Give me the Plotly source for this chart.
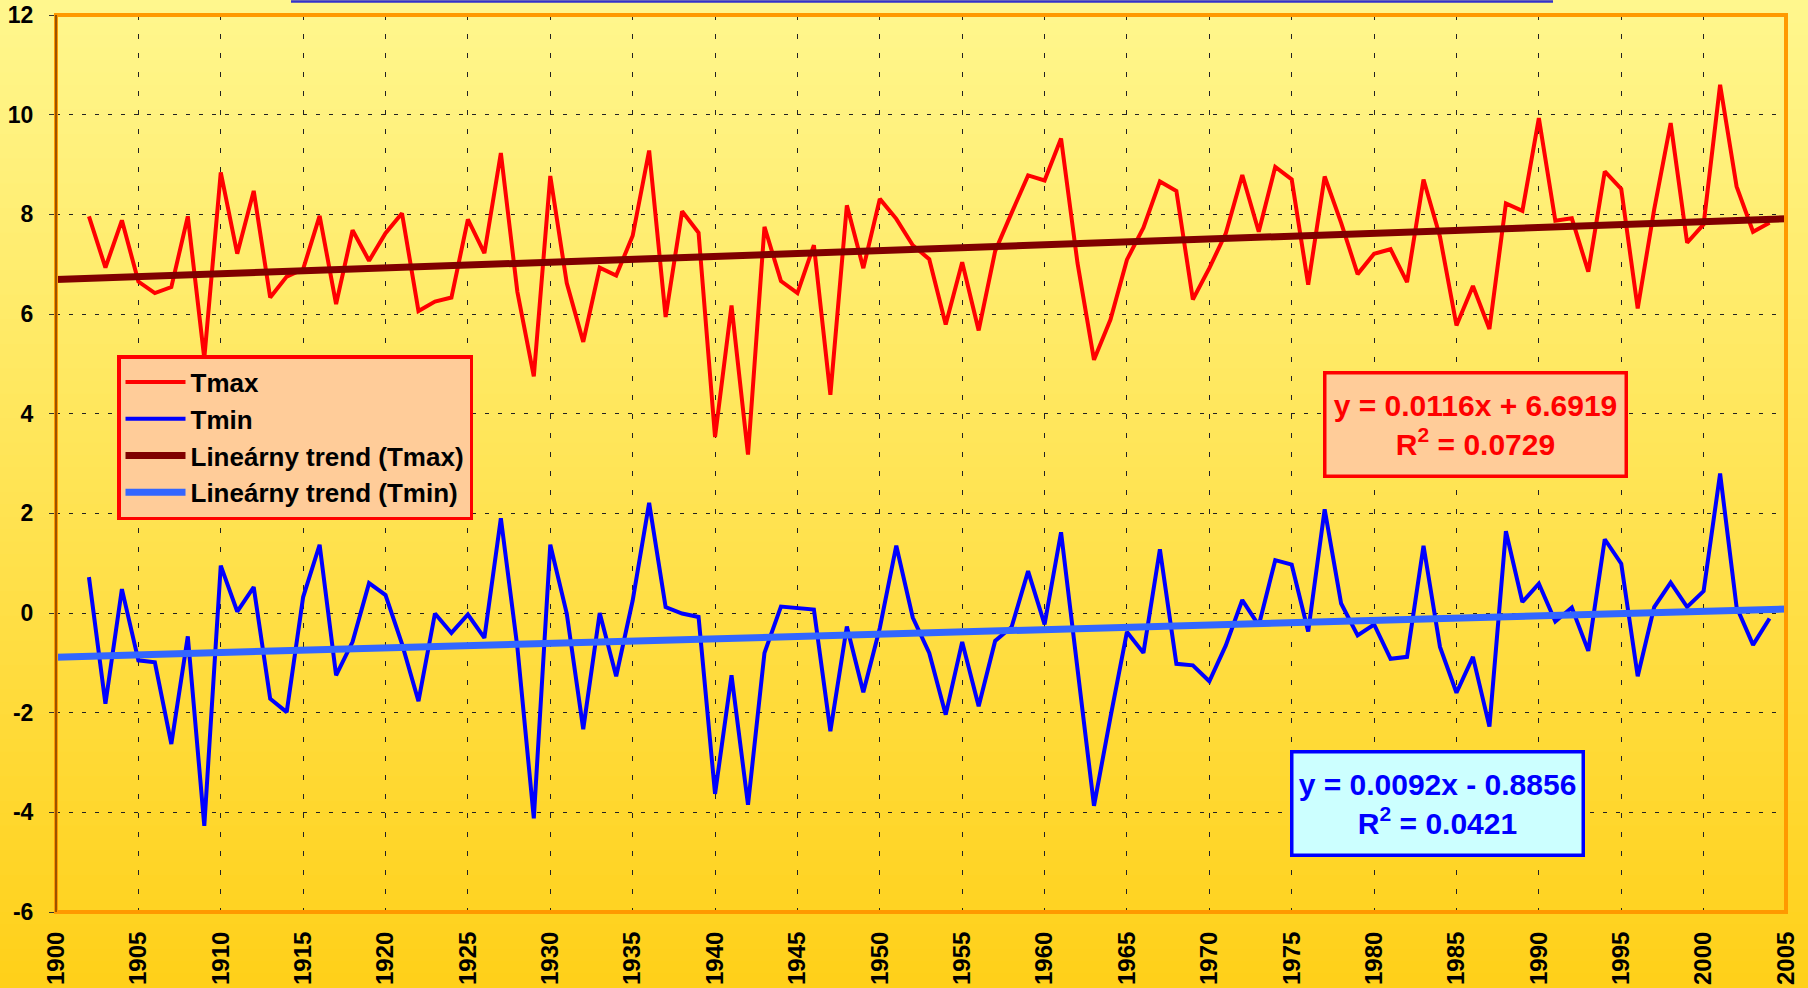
import plotly.graph_objects as go

# ---------------- data ----------------
years = list(range(1902, 2005))
tmax = [7.96, 6.93, 7.88, 6.65, 6.42, 6.54, 7.96, 5.11, 8.84, 7.21,
        8.47, 6.33, 6.75, 6.90, 7.97, 6.20, 7.68, 7.07, 7.62, 8.02,
        6.06, 6.25, 6.33, 7.90, 7.22, 9.23, 6.45, 4.75, 8.77, 6.62,
        5.44, 6.93, 6.77, 7.57, 9.28, 5.94, 8.06, 7.63, 3.53, 6.17,
        3.18, 7.75, 6.66, 6.42, 7.38, 4.38, 8.18, 6.92, 8.31, 7.91,
        7.38, 7.10, 5.79, 7.04, 5.67, 7.26, 8.03, 8.78, 8.68, 9.52,
        7.02, 5.08, 5.89, 7.09, 7.73, 8.66, 8.47, 6.29, 6.92, 7.62,
        8.79, 7.65, 8.95, 8.70, 6.59, 8.76, 7.83, 6.80, 7.21, 7.30,
        6.64, 8.70, 7.55, 5.77, 6.56, 5.70, 8.22, 8.07, 9.93, 7.87,
        7.92, 6.85, 8.86, 8.51, 6.11, 8.10, 9.83, 7.43, 7.80, 10.60,
        8.56, 7.65, 7.83]
tmin = [0.72, -1.82, 0.48, -0.95, -0.99, -2.63, -0.47, -4.27, 0.95, 0.03,
        0.52, -1.72, -1.99, 0.32, 1.37, -1.25, -0.58, 0.60, 0.36, -0.62,
        -1.77, -0.01, -0.40, -0.03, -0.50, 1.90, -0.68, -4.12, 1.37, -0.01,
        -2.33, 0.00, -1.27, 0.25, 2.21, 0.12, -0.01, -0.08, -3.63, -1.25,
        -3.85, -0.80, 0.13, 0.11, 0.07, -2.37, -0.27, -1.59, -0.30, 1.35,
        -0.09, -0.80, -2.04, -0.58, -1.87, -0.56, -0.28, 0.84, -0.23, 1.62,
        -1.10, -3.87, -2.09, -0.38, -0.80, 1.28, -1.02, -1.05, -1.37, -0.65,
        0.26, -0.25, 1.06, 0.97, -0.37, 2.08, 0.19, -0.45, -0.23, -0.92,
        -0.88, 1.35, -0.68, -1.60, -0.88, -2.28, 1.64, 0.22, 0.59, -0.17,
        0.11, -0.76, 1.48, 0.99, -1.27, 0.12, 0.61, 0.12, 0.44, 2.80,
        0.12, -0.64, -0.11]

# trend equations shown on chart (x = years since 1900)
tmax_slope, tmax_icpt, tmax_r2 = 0.0116, 6.6919, 0.0729
tmin_slope, tmin_icpt, tmin_r2 = 0.0092, -0.8856, 0.0421
trend_years = [1900, 2005]

x_ticks = list(range(1900, 2010, 5))
y_ticks = list(range(-6, 14, 2))

series_names = ["Tmax", "Tmin", "Lineárny trend (Tmax)", "Lineárny trend (Tmin)"]

# ---------------- figure ----------------
W, H = 1808, 988
ML, MR, MT, MB = 56, 22, 15, 76
PW, PH = W - ML - MR, H - MT - MB

FONT = "Arial, 'Liberation Sans', sans-serif"

fig = go.Figure()

fig.add_trace(go.Scatter(x=years, y=tmax, mode="lines", name=series_names[0],
                         legendgroup="a", line=dict(color="#FF0000", width=4)))
fig.add_trace(go.Scatter(x=years, y=tmin, mode="lines", name=series_names[1],
                         legendgroup="b", line=dict(color="#0000FF", width=4)))
fig.add_trace(go.Scatter(x=trend_years,
                         y=[tmax_icpt + tmax_slope * (t - 1900) for t in trend_years],
                         mode="lines", name=series_names[2], legendgroup="c",
                         line=dict(color="#800000", width=7)))
fig.add_trace(go.Scatter(x=trend_years,
                         y=[tmin_icpt + tmin_slope * (t - 1900) for t in trend_years],
                         mode="lines", name=series_names[3], legendgroup="d",
                         line=dict(color="#3366FF", width=7)))

# background gradient (whole page)
shapes = []
top = (255, 247, 142)
bot = (255, 208, 25)
N = 80
y_top = 1 + MT / PH
y_bot = -MB / PH
for i in range(N):
    f = (i + 0.5) / N
    c = tuple(round(top[k] + (bot[k] - top[k]) * f) for k in range(3))
    y1 = y_top - (y_top - y_bot) * i / N
    y0 = y_top - (y_top - y_bot) * (i + 1) / N
    shapes.append(dict(type="rect", xref="paper", yref="paper",
                       x0=-0.1, x1=1.1, y0=y0 - 0.002, y1=y1 + 0.002,
                       line=dict(width=0), fillcolor="rgb(%d,%d,%d)" % c,
                       layer="below"))

# plot frame (orange)
shapes.append(dict(type="rect", xref="paper", yref="paper", x0=0, x1=1, y0=0, y1=1,
                   line=dict(color="#FF9900", width=4), layer="above"))
# left axis dark line
shapes.append(dict(type="line", xref="paper", yref="paper", x0=0, x1=0, y0=0, y1=1,
                   line=dict(color="#7A3C00", width=1.5), layer="above"))
# cut-off title box bottom edge
shapes.append(dict(type="line", xref="paper", yref="paper",
                   x0=(291 - ML) / PW, x1=(1553 - ML) / PW,
                   y0=1 + (MT - 1.5) / PH, y1=1 + (MT - 1.5) / PH,
                   line=dict(color="#3333CC", width=2.5), layer="above"))

annotations = [
    dict(xref="paper", yref="paper",
         x=(1475.5 - ML) / PW, y=(MT + PH - 425) / PH,
         xanchor="center", yanchor="middle", showarrow=False,
         text="y = %.4fx + %.4f<br>R<sup>2</sup> = %.4f" % (tmax_slope, tmax_icpt, tmax_r2),
         font=dict(family=FONT, size=30, color="#FF0000", weight="bold"),
         bgcolor="#FFCC99", bordercolor="#FF0000", borderwidth=3.5,
         borderpad=2, width=294, height=96, align="center"),
    dict(xref="paper", yref="paper",
         x=(1437.5 - ML) / PW, y=(MT + PH - 803) / PH,
         xanchor="center", yanchor="middle", showarrow=False,
         text="y = %.4fx - %.4f<br>R<sup>2</sup> = %.4f" % (tmin_slope, abs(tmin_icpt), tmin_r2),
         font=dict(family=FONT, size=30, color="#0000FF", weight="bold"),
         bgcolor="#CCFFFF", bordercolor="#0000FF", borderwidth=3.5,
         borderpad=2, width=284, height=96, align="center"),
]

fig.update_layout(
    width=W, height=H,
    margin=dict(l=ML, r=MR, t=MT, b=MB, pad=0, autoexpand=False),
    paper_bgcolor="#FFE45A",
    plot_bgcolor="rgba(0,0,0,0)",
    font=dict(family=FONT, color="#000000"),
    shapes=shapes,
    annotations=annotations,
    showlegend=True,
    legend=dict(x=(117 - ML) / PW, y=(MT + PH - 355) / PH,
                xanchor="left", yanchor="top",
                bgcolor="#FFCC99", bordercolor="#FF0000", borderwidth=3.5,
                font=dict(family=FONT, size=26, color="#000000", weight="bold"),
                tracegroupgap=6, itemwidth=60, traceorder="normal"),
    xaxis=dict(range=[1900, 2005], tickmode="array", tickvals=x_ticks,
               ticktext=[str(v) for v in x_ticks], tickangle=-90,
               tickfont=dict(family=FONT, size=24, color="#000000", weight="bold"),
               ticks="outside", ticklen=0, ticklabelstandoff=9, automargin=False,
               showgrid=True, gridcolor="#222222", gridwidth=1, griddash="5px,14px",
               zeroline=False, showline=False),
    yaxis=dict(range=[-6, 12], tickmode="array", tickvals=y_ticks,
               ticktext=[str(v) for v in y_ticks],
               tickfont=dict(family=FONT, size=23, color="#000000", weight="bold"),
               ticks="outside", ticklen=6, tickcolor="#333333", tickwidth=1,
               ticklabelstandoff=11, automargin=False,
               showgrid=True, gridcolor="#222222", gridwidth=1, griddash="4px,9px",
               zeroline=False, showline=False),
)

fig.write_html("out.html",
               config={"displayModeBar": False},
               post_script="document.body.style.margin='0';"
                           "document.body.style.padding='0';"
                           "document.body.style.overflow='hidden';")
